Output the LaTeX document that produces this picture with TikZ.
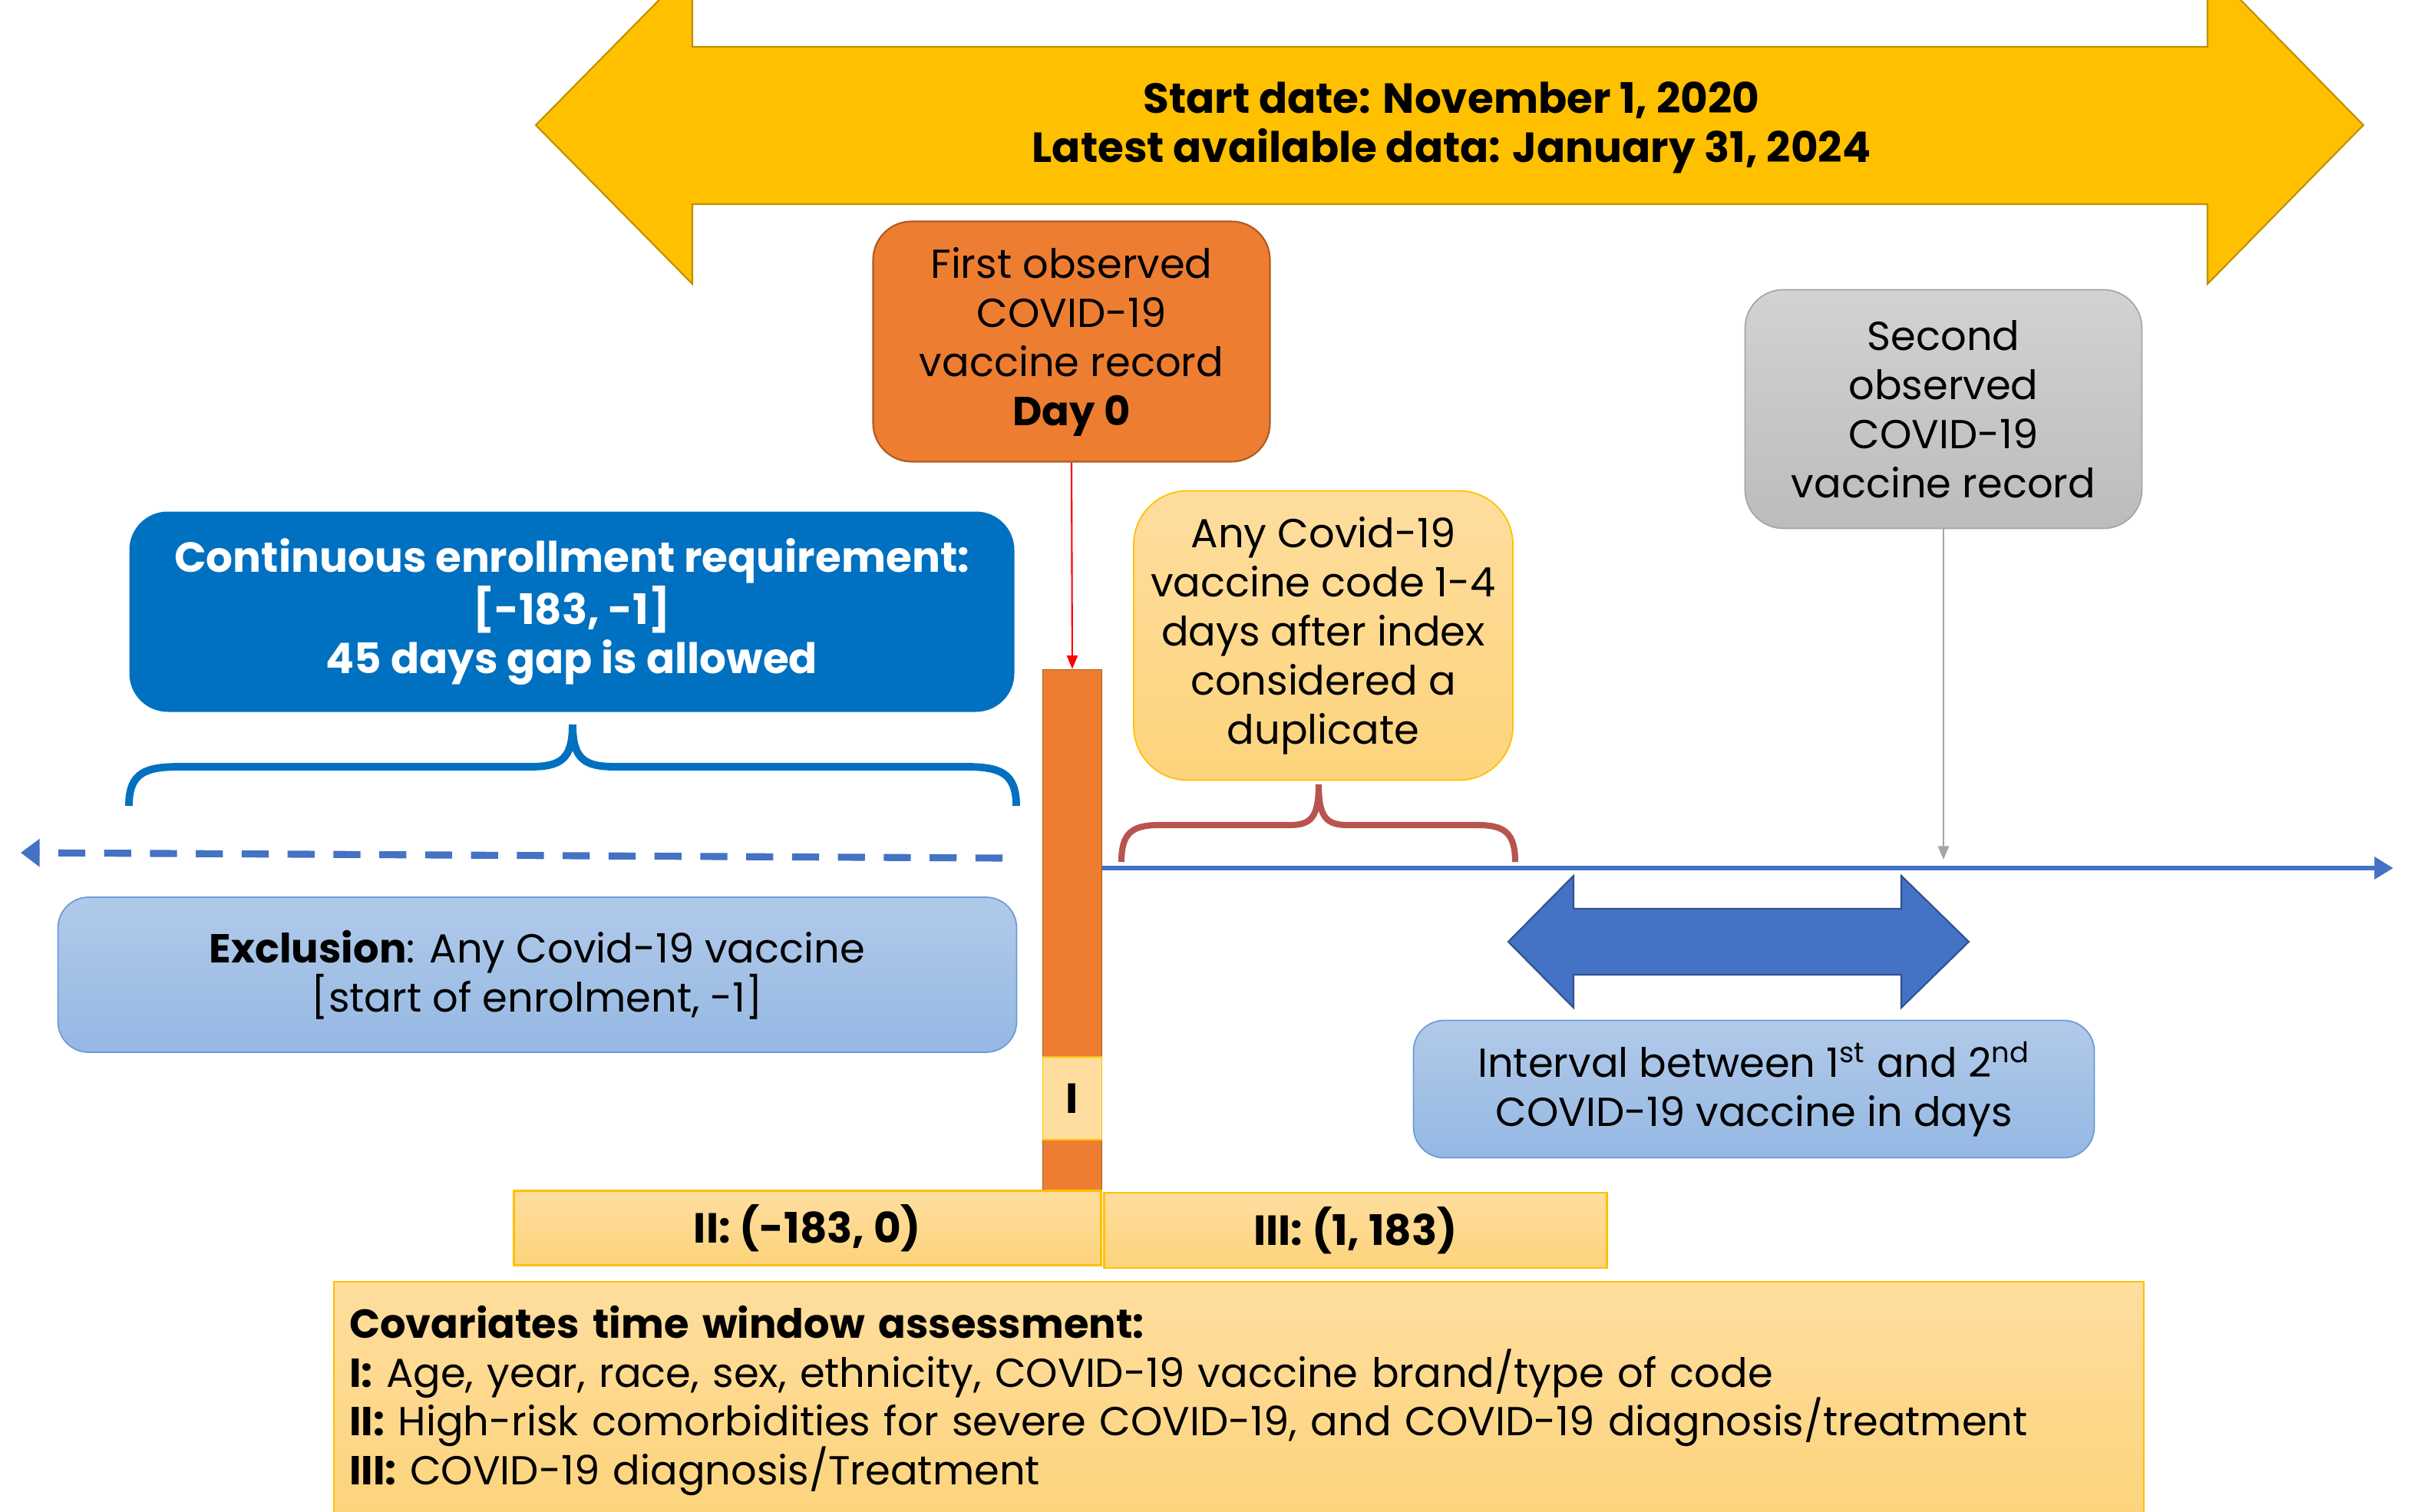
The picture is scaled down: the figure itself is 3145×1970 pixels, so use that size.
\documentclass[tikz,border=0pt]{standalone}
\usepackage{fontspec}
\setmainfont{Poppins}
\usetikzlibrary{arrows.meta}

\definecolor{gold}{HTML}{FFC000}
\definecolor{goldline}{HTML}{BF9000}
\definecolor{orng}{HTML}{ED7D31}
\definecolor{orngline}{HTML}{AE5A21}
\definecolor{navy}{HTML}{0070C0}
\definecolor{steel}{HTML}{4472C4}
\definecolor{steelline}{HTML}{2F528F}
\definecolor{paleblueA}{HTML}{B1CAE9}
\definecolor{paleblueB}{HTML}{95B8E3}
\definecolor{paleline}{HTML}{6C9BD8}
\definecolor{sandA}{HTML}{FEDD9E}
\definecolor{sandB}{HTML}{FDD47C}
\definecolor{greyA}{HTML}{D2D2D2}
\definecolor{greyB}{HTML}{BCBCBC}
\definecolor{greyline}{HTML}{A5A5A5}
\definecolor{brick}{HTML}{B85450}

\begin{document}
\begin{tikzpicture}[x=0.1mm,y=-0.1mm,
   every node/.style={font=\fontsize{15}{18.2}\selectfont,align=center,inner sep=0pt},
   boldtext/.style={font=\fontsize{15.6}{18.2}\selectfont\bfseries},
   sandbox/.style={draw=gold,line width=0.8pt,top color=sandA,bottom color=sandB},
   palebox/.style={draw=paleline,line width=0.5pt,top color=paleblueA,bottom color=paleblueB,rounded corners=4mm},
   brace/.style={line width=2.8pt,line cap=butt}]
   \useasboundingbox (0,0) rectangle (3145,1970);
   \clip (0,0) rectangle (3145,1970);
   % study period
   \filldraw[draw=goldline,fill=gold,line width=0.6pt]
     (698,163) -- (902,-44) -- (902,61) -- (2876,61) -- (2876,-44) -- (3079,163)
     -- (2876,370) -- (2876,266) -- (902,266) -- (902,370) -- cycle;
   \node[boldtext] (period) at (1891,166)
     {Start date: November 1, 2020\\Latest available data: January 31, 2024};
   % vaccine records
   \node[draw=orngline,fill=orng,rounded corners=5mm,line width=0.6pt,minimum width=5.17cm,minimum height=3.13cm] (first) at (1396,445)
     {First observed\\COVID-19\\vaccine record\\\textbf{Day 0}};
   \node[draw=greyline,top color=greyA,bottom color=greyB,rounded corners=5mm,line width=0.5pt,minimum width=5.17cm,minimum height=3.11cm] (second) at (2532,533)
     {Second\\observed\\COVID-19\\vaccine record};
   % index bar
   \node[draw=orngline,fill=orng,line width=0.5pt,minimum width=0.77cm,minimum height=6.79cm] (bar) at (1397,1212) {};
   \node[draw=gold,fill=sandA,line width=0.5pt,minimum width=0.77cm,minimum height=1.08cm,boldtext] (idx) at (1397,1431) {I};
   % enrollment and exclusion
   \node[fill=navy,rounded corners=5mm,minimum width=11.53cm,minimum height=2.61cm,text=white,boldtext] (enroll) at (745,797)
     {Continuous enrollment requirement:\\{}[-183, -1]\\45 days gap is allowed};
   \draw[brace,navy] (168,1050) .. controls (168,1006) and (190,999) .. (235,999) -- (690,999)
     .. controls (730,999) and (746,990) .. (746,944) .. controls (746,990) and (762,999) .. (802,999)
     -- (1257,999) .. controls (1302,999) and (1324,1006) .. (1324,1050);
   \coordinate (pastR) at (1306,1118);
   \coordinate (pastL) at (27,1111);
   \draw[steel,line width=2.6pt,dash pattern=on 10pt off 7pt,-{Triangle[length=7pt,width=10pt]}] (pastR) -- (pastL);
   \node[palebox,minimum width=12.49cm,minimum height=2.02cm] (excl) at (700,1270)
     {\textbf{Exclusion}: Any Covid-19 vaccine\\{}[start of enrolment, -1]};
   % follow-up
   \node[sandbox,line width=0.5pt,rounded corners=7mm,minimum width=4.94cm,minimum height=3.77cm] (dup) at (1724,828)
     {Any Covid-19\\vaccine code 1-4\\days after index\\considered a\\duplicate};
   \draw[brace,brick,line width=2.3pt] (1461,1123) .. controls (1461,1085) and (1475,1075) .. (1510,1075) -- (1680,1075)
     .. controls (1708,1075) and (1718,1065) .. (1718,1022) .. controls (1718,1065) and (1728,1075) .. (1756,1075)
     -- (1925,1075) .. controls (1960,1075) and (1974,1085) .. (1974,1123);
   \coordinate (tlend) at (3118,1131);
   \draw[steel,line width=1.8pt,-{Triangle[length=7pt,width=8pt]}] (bar.east |- tlend) -- (tlend);
   \coordinate (secondhit) at (2532,1120);
   \draw[greyline,line width=0.8pt,-{Triangle[length=5pt,width=4pt]}] (second.south) -- (secondhit);
   \draw[red,line width=0.6pt,-{Triangle[length=5pt,width=4pt]}] (first.south) -- (bar.north);
   \filldraw[draw=steelline,fill=steel,line width=0.6pt]
     (1965,1227) -- (2050,1141) -- (2050,1184) -- (2477,1184) -- (2477,1141) -- (2565,1227)
     -- (2477,1313) -- (2477,1270) -- (2050,1270) -- (2050,1313) -- cycle;
   \node[palebox,minimum width=8.87cm,minimum height=1.79cm] (interval) at (2285,1419)
     {Interval between 1\textsuperscript{st} and 2\textsuperscript{nd}\\COVID-19 vaccine in days};
   % covariate windows
   \node[sandbox,minimum width=7.65cm,minimum height=0.97cm,boldtext] (winII) at (1052,1600) {II: (-183, 0)};
   \node[sandbox,minimum width=6.55cm,minimum height=0.98cm,boldtext] (winIII) at (1766,1603) {III: (1, 183)};
   \node[sandbox,minimum width=23.58cm,minimum height=3.1cm,text width=23.18cm,align=left] (cov) at (1614,1825)
     {\textbf{Covariates time window assessment:}\\
      \textbf{I:} Age, year, race, sex, ethnicity, COVID-19 vaccine brand/type of code\\
      \textbf{II:} High-risk comorbidities for severe COVID-19, and COVID-19 diagnosis/treatment\\
      \textbf{III:} COVID-19 diagnosis/Treatment};
\end{tikzpicture}
\end{document}
